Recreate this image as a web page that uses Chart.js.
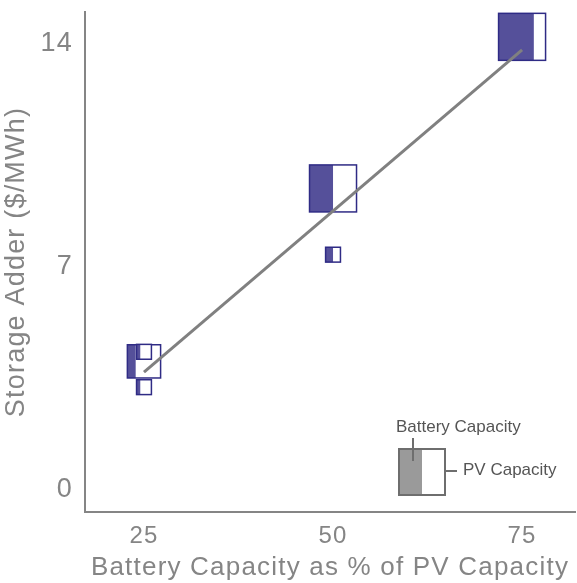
<!DOCTYPE html>
<html><head><meta charset="utf-8">
<script src="https://cdn.jsdelivr.net/npm/chart.js@4.4.0/dist/chart.umd.min.js"></script>
<style>html,body{margin:0;padding:0;background:#fff;} canvas{display:block;}</style>
</head><body>
<canvas id="c" width="577" height="583"></canvas>
<script>
// Battery capacity as % of PV capacity (x) for each project
const batteryShare = [25, 25, 25, 50, 50, 75];
// Storage adder ($/MWh)
const storageAdder = [4.03, 4.33, 3.22, 9.46, 7.38, 14.22];
// PV capacity (MW) -> box area
const pvCapacity = [50, 10, 10, 100, 10, 100];
// Trend line end points
const trendX = [25, 75];
const trendY = [3.69, 13.81];
const xTicks = [25, 50, 75];
const yTicks = [0, 7, 14];

const FONT = "'Liberation Sans', Arial, sans-serif";
const GREY = '#858585';

const spacingPlugin = {
  id: 'spacing',
  beforeDraw(chart) { chart.ctx.letterSpacing = '1.2px'; }
};

const boxPlugin = {
  id: 'boxes',
  beforeDatasetsDraw(chart) {
    const meta = chart.getDatasetMeta(0);
    const ctx = chart.ctx;
    const idx = meta.data.map((p, i) => i).sort((a, b) => pvCapacity[b] - pvCapacity[a]);
    ctx.save();
    idx.forEach(i => {
      const p = meta.data[i];
      const side = 4.7 * Math.sqrt(pvCapacity[i]);
      const l = p.x - side / 2, t = p.y - side / 2;
      ctx.fillStyle = '#ffffff';
      ctx.fillRect(l, t, side, side);
      ctx.fillStyle = '#55509a';
      ctx.fillRect(l, t, side * batteryShare[i] / 100, side);
      ctx.strokeStyle = '#2f2b85';
      ctx.lineWidth = 1.5;
      ctx.strokeRect(l, t, side, side);
    });
    ctx.restore();
  }
};

const legendPlugin = {
  id: 'boxLegend',
  afterDraw(chart) {
    const ctx = chart.ctx;
    const a = chart.chartArea;
    const l = a.right - 176, t = a.bottom - 63, s = 46;
    ctx.save();
    ctx.letterSpacing = '0px';
    ctx.fillStyle = '#ffffff';
    ctx.fillRect(l, t, s, s);
    ctx.fillStyle = '#9a9a9a';
    ctx.fillRect(l, t, s / 2, s);
    ctx.strokeStyle = '#6e6e6e';
    ctx.lineWidth = 2;
    ctx.strokeRect(l, t, s, s);
    ctx.beginPath();
    ctx.moveTo(l + 14, t - 11);
    ctx.lineTo(l + 14, t + 12);
    ctx.moveTo(l + s, t + 22);
    ctx.lineTo(l + s + 12, t + 22);
    ctx.stroke();
    ctx.fillStyle = '#555555';
    ctx.font = '17px ' + FONT;
    ctx.textAlign = 'left';
    ctx.textBaseline = 'alphabetic';
    ctx.fillText('Battery Capacity', l - 3, t - 17);
    ctx.textBaseline = 'middle';
    ctx.fillText('PV Capacity', l + s + 18, t + 21);
    ctx.restore();
  }
};

new Chart(document.getElementById('c'), {
  type: 'scatter',
  data: {
    datasets: [
      {
        label: 'Projects',
        data: batteryShare.map((x, i) => ({ x: x, y: storageAdder[i] })),
        pointRadius: 0,
        pointHoverRadius: 0,
        showLine: false
      },
      {
        label: 'Trend',
        type: 'line',
        data: trendX.map((x, i) => ({ x: x, y: trendY[i] })),
        borderColor: '#808080',
        borderWidth: 3,
        pointRadius: 0,
        fill: false,
        showLine: true
      }
    ]
  },
  options: {
    responsive: false,
    animation: false,
    devicePixelRatio: 1,
    layout: { padding: { top: 12, right: 2, left: 0, bottom: 0 } },
    plugins: { legend: { display: false }, tooltip: { enabled: false } },
    scales: {
      x: {
        type: 'linear',
        min: 17.2,
        max: 82,
        afterBuildTicks: s => { s.ticks = xTicks.map(v => ({ value: v })); },
        afterFit: s => { s.height = 71; s.paddingLeft = 0; s.paddingRight = 0; },
        grid: { display: false, drawTicks: false },
        border: { color: GREY, width: 2 },
        ticks: { color: GREY, font: { family: FONT, size: 24 }, padding: 10 },
        title: { display: true, text: 'Battery Capacity as % of PV Capacity', color: GREY,
                 font: { family: FONT, size: 26 }, padding: 0 }
      },
      y: {
        type: 'linear',
        min: -0.7,
        max: 15,
        afterBuildTicks: s => { s.ticks = yTicks.map(v => ({ value: v })); },
        afterFit: s => { s.width = 85; s.paddingTop = 0; s.paddingBottom = 0; },
        grid: { display: false, drawTicks: false },
        border: { color: GREY, width: 2 },
        ticks: { color: GREY, font: { family: FONT, size: 27 }, padding: 12 },
        title: { display: true, text: 'Storage Adder ($/MWh)', color: GREY,
                 font: { family: FONT, size: 27 }, padding: 0 }
      }
    }
  },
  plugins: [spacingPlugin, boxPlugin, legendPlugin]
});
</script>
</body></html>
